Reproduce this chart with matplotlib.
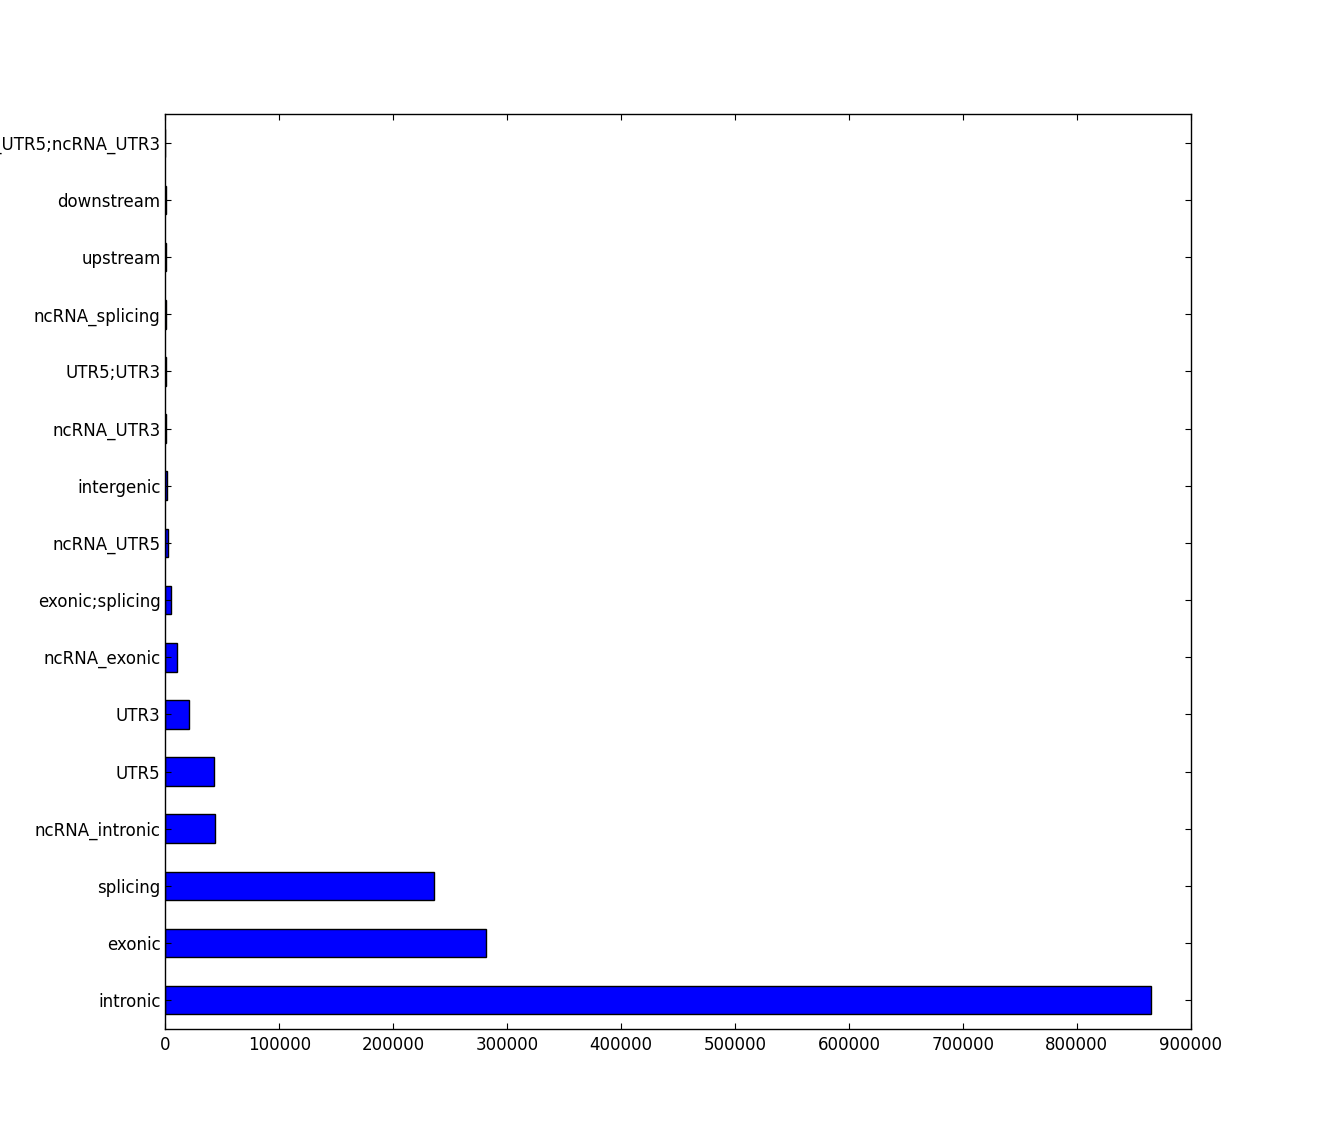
import matplotlib
matplotlib.use('Agg')
import matplotlib.pyplot as plt

# counts per region
regions = ['intronic', 'exonic', 'splicing', 'ncRNA_intronic', 'UTR5', 'UTR3',
           'ncRNA_exonic', 'exonic;splicing', 'ncRNA_UTR5', 'intergenic',
           'ncRNA_UTR3', 'UTR5;UTR3', 'ncRNA_splicing', 'upstream',
           'downstream', 'ncRNA_UTR5;ncRNA_UTR3']
counts = [865500, 281300, 235700, 43600, 42700, 20800,
          10600, 4500, 2600, 1600,
          900, 700, 600, 500,
          400, 60]

plt.rcParams['font.size'] = 12

fig = plt.figure(figsize=(13.23, 11.43), dpi=100)
ax = fig.add_axes([0.125, 0.1, 0.775, 0.8])

pos = range(len(regions))
ax.barh(pos, counts, height=0.5, color='#0000ff', edgecolor='black', linewidth=1)
ax.set_yticks(list(pos))
ax.set_yticklabels(regions)
ax.set_ylim(-0.5, len(regions) - 0.5)
ax.set_xlim(0, 900000)
ax.set_xticks(range(0, 900001, 100000))

ax.tick_params(direction='in', length=4, top=True, right=True, width=0.8)
ax.tick_params(axis='y', pad=3.5)
ax.tick_params(axis='x', pad=5)
for s in ax.spines.values():
    s.set_linewidth(1)

fig.savefig('out.png', dpi=100)
